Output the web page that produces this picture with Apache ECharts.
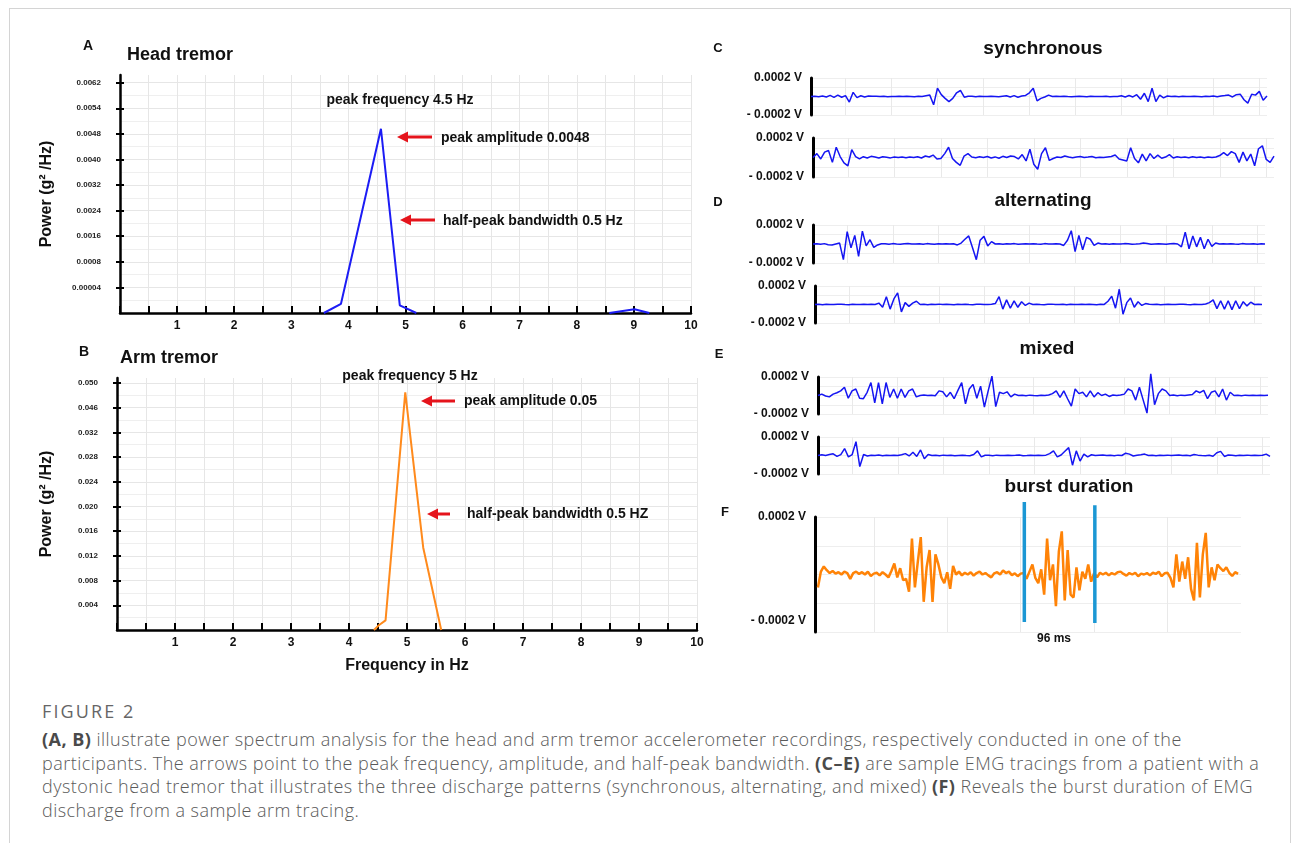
<!DOCTYPE html>
<html>
<head>
<meta charset="utf-8">
<script src="https://cdn.jsdelivr.net/npm/echarts@6/dist/echarts.min.js"></script>
<style>
html, body { margin: 0; padding: 0; background: #fff; }
#frame { position: absolute; left: 9px; top: 8px; width: 1280px; height: 900px; border: 1px solid #d4d4d4; }
#main { position: absolute; left: 0; top: 0; width: 1296px; height: 690px; }
#caption { position: absolute; left: 42px; top: 698px; font-family: "Open Sans", sans-serif; color: #5a5a5a; white-space: nowrap; }
#caption .fig { font-size: 18px; line-height: 26px; letter-spacing: 2.1px; color: #666; }
#caption .txt { font-size: 18px; line-height: 23.7px; margin-top: 4px; letter-spacing: 0.47px; font-weight: 300; }
#caption b { font-weight: 700; color: #4a4a4a; }
</style>
</head>
<body>
<div id="frame"></div>
<div id="main"></div>
<div id="caption">
  <div class="fig">FIGURE 2</div>
  <div class="txt"><b>(A, B)</b> illustrate power spectrum analysis for the head and arm tremor accelerometer recordings, respectively conducted in one of the<br>participants. The arrows point to the peak frequency, amplitude, and half-peak bandwidth. <b>(C–E)</b> are sample EMG tracings from a patient with a<br>dystonic head tremor that illustrates the three discharge patterns (synchronous, alternating, and mixed) <b>(F)</b> Reveals the burst duration of EMG<br>discharge from a sample arm tracing.</div>
</div>
<script>
var chart = echarts.init(document.getElementById('main'));

var FONT = '"Liberation Sans", Arial, Helvetica, sans-serif';
var INK = '#111';

// power spectra: [frequency Hz, power in tick steps of the printed axis]
// (the printed y labels are irregular, so the axis counts ticks and labels them)
var headPower = [[3.57, 0], [3.87, 0.36], [4.57, 7.2], [4.9, 0.3], [5.19, 0], [7, '-'],
                 [8.57, 0], [9.01, 0.15], [9.27, 0]];
var armPower = [[4.43, 0], [4.52, 0.2], [4.63, 0.39], [4.97, 9.62], [5.28, 3.33], [5.59, 0]];
var headTicks = ['0.00004', '0.0008', '0.0016', '0.0024', '0.0032', '0.0040', '0.0048', '0.0054', '0.0062'];
var armTicks = ['0.004', '0.008', '0.012', '0.016', '0.020', '0.024', '0.028', '0.032', '0.046', '0.050'];
var freqLabels = [1, 2, 3, 4, 5, 6, 7, 8, 9, 10];

// EMG traces, microvolts, 120 evenly spaced samples each
var syncTop = [0,2,-3,5,-5,12,-10,14,-8,10,-60,45,-12,8,-5,6,2,4,
  0,2,-2,1,0,3,-1,2,0,-3,2,1,
  8,15,-90,90,20,-20,-55,-20,40,65,-8,3,
  2,-2,3,0,-1,2,1,-2,3,
  8,-6,10,-8,6,12,40,90,-47,-20,-5,15,0,
  2,-1,3,0,-2,1,2,0,-2,3,1,-1,0,2,-3,1,0,
  8,-5,10,-5,20,-30,35,-55,90,-55,15,-15,5,
  0,2,-2,3,0,-1,2,1,-2,3,0,
  5,-3,6,10,15,-5,20,25,-35,-72,25,15,55,-40,5];
var syncBottom = [0,40,-15,55,72,-50,105,10,-55,-85,
  80,10,-15,8,-5,12,5,-5,8,2,
  -4,6,0,5,-3,4,0,8,-5,15,
  5,25,-15,-10,40,105,-10,-50,-80,15,
  40,5,-3,8,0,10,-5,6,-8,12,
  0,15,10,-15,30,-35,85,-70,-120,40,
  100,-30,-10,5,0,15,5,-3,6,10,
  0,4,10,-2,3,0,5,10,25,-15,
  -25,-35,100,-10,-55,35,-35,40,-10,25,
  -8,5,30,-5,8,0,5,-3,8,0,
  4,-2,6,0,5,20,50,20,60,40,
  -50,55,-35,35,-85,90,120,-20,-50,15];
var altTop = [0,3,-2,4,-8,-10,0,10,-165,130,-40,90,-130,135,-20,45,-35,-10,2,
  3,-2,4,0,-3,2,5,-1,0,3,-2,4,1,-3,2,0,3,-1,2,
  -10,10,50,85,-40,-165,40,80,-20,25,0,
  3,-2,2,0,4,-3,1,2,-1,3,0,-2,4,1,-1,2,0,
  -15,40,140,-80,90,-60,70,50,-15,10,0,
  2,-3,3,0,-1,4,2,-2,0,3,10,5,-2,1,3,0,-3,2,4,0,
  -30,125,-50,85,-30,70,-50,50,-25,10,0,
  2,-1,3,0,-2,4,1,0,3,-2,2,0];
var altBottom = [0,2,-2,3,0,-1,2,4,0,-2,3,1,0,2,-1,3,0,
  15,-30,85,-50,60,125,-80,20,-20,15,35,0,
  2,-2,3,0,4,-1,2,0,-3,2,1,3,0,-2,2,4,0,-1,2,
  10,85,-50,50,-40,40,-30,30,-10,15,0,
  3,0,-2,2,4,-1,0,3,-2,2,1,0,3,-1,2,0,-2,3,1,
  35,90,-40,165,-105,20,70,-30,30,-10,10,
  2,0,3,-2,1,4,0,-1,2,3,0,-2,2,0,1,
  5,20,50,-45,40,-50,40,-55,40,-45,30,-15,25,0,3,0];
var mixTop = [0,15,-5,-15,15,30,50,90,-30,50,
  70,-30,-35,35,140,-80,140,-90,140,-20,
  70,-30,70,-20,50,70,-15,0,5,0,
  3,-3,50,40,-15,35,-35,55,140,-90,
  70,120,-30,100,-125,50,210,-120,35,20,
  40,-15,15,0,3,-2,4,0,-3,2,
  0,5,20,50,-20,50,-35,-115,70,20,
  35,-15,50,-15,30,0,15,-10,5,0,
  5,15,70,50,-50,90,-50,-190,235,-100,
  20,70,50,0,5,-3,4,0,5,10,
  50,30,55,-35,35,50,-15,70,-50,35,
  0,3,-2,4,0,2,-1,3,0,2];
var mixBottom = [0,8,0,10,18,-10,10,75,-15,10,150,-120,10,-5,3,0,5,-3,2,0,4,0,8,20,-5,35,-10,60,-35,10,0,
  3,-2,4,0,2,-3,1,4,0,-2,
  10,50,-15,3,
  2,-2,4,0,-1,3,0,2,5,-2,0,3,-1,2,0,4,
  20,50,-15,5,45,85,-105,50,-60,15,-15,8,0,3,5,0,3,-2,4,0,25,15,-5,3,8,15,0,
  3,-2,2,0,4,-1,2,5,0,3,-2,10,4,0,-3,2,
  -8,30,45,-10,5,
  2,-2,3,0,4,-1,2,0,3,15,-10];

// arm tracing for burst duration, microvolts, one sample every 4 ms from 24 ms
var burstStartMs = 24, burstStepMs = 4;
var burstTrace = [-45,10,28,15,5,12,3,8,0,10,
  5,-15,5,10,2,8,0,10,-5,3,
  6,-3,8,0,-10,12,38,-10,22,-20,
  -15,-60,125,-45,45,130,-95,25,85,-95,
  70,35,-10,-30,8,-50,30,0,10,-3,
  6,0,8,-4,5,10,0,5,-3,-10,
  4,8,0,14,5,10,-2,4,-6,3,
  5,-15,10,35,-12,-30,18,-70,125,-20,
  35,-110,80,150,-90,85,-70,-80,25,-55,
  10,-15,35,-25,5,-10,6,0,6,-3,
  5,0,8,10,2,-4,5,0,6,-6,
  3,0,5,-3,6,2,10,-6,4,6,
  -12,-45,70,-25,45,-15,60,-50,-90,110,
  -80,70,145,-45,25,-20,35,22,12,25,
  6,-5,8,2];
var burstEdgesMs = [305, 401];
var burstEdgeTop = [252, 241];
var burstEdgeBottom = [-165, -169];

var scaleBar = ['- 0.0002 V', '0.0002 V'];
var traceGridTicks = [9, 21, 33, 45, 57, 69, 81, 93, 105, 117];
var burstGridTicks = [100, 200, 300, 400, 500];
var voltGrid = [-200, -100, 0, 100, 200];

function seq(n, a) { var r = []; for (var i = 0; i < n; i++) r.push(a + i); return r; }
function asPoints(vals) { return vals.map(function (v, i) { return [i, v]; }); }

var grids = [
  { left: 120, top: 75, width: 571, height: 238 },   // A
  { left: 117, top: 378, width: 580, height: 252 },  // B
  { left: 811, top: 78, width: 456, height: 37 },    // C top
  { left: 813, top: 138, width: 461, height: 39 },   // C bottom
  { left: 813, top: 225, width: 452, height: 38 },   // D top
  { left: 815, top: 286, width: 447, height: 37 },   // D bottom
  { left: 818, top: 377, width: 450, height: 37 },   // E top
  { left: 818, top: 437, width: 452, height: 37 },   // E bottom
  { left: 815, top: 517, width: 426, height: 115 }   // F
].map(function (g) { g.outerBoundsMode = 'none'; g.containLabel = false; return g; });

var axisBlack = { color: '#000', width: 2.5 };
var gridGray = { color: '#e6e6e6', width: 1 };

function freqAxis(gi, extra) {
  var ax = {
    gridIndex: gi, type: 'value', min: 0, max: 10, interval: 0.5,
    axisLine: { show: true, lineStyle: axisBlack },
    axisTick: { show: true, inside: true, length: 7, lineStyle: { color: '#000', width: 2 } },
    axisLabel: { customValues: freqLabels, margin: 7, fontSize: 12, fontWeight: 'bold', color: INK, fontFamily: FONT },
    splitLine: { show: true, lineStyle: gridGray }
  };
  return Object.assign(ax, extra || {});
}
function powerAxes(gi, max, labels, gap) {
  var ticks = seq(labels.length, 1);
  var main = {
    gridIndex: gi, type: 'value', position: 'left', min: 0, max: max, interval: 1,
    name: 'Power (g² /Hz)', nameLocation: 'middle', nameGap: gap,
    nameTextStyle: { fontSize: 16, fontWeight: 'bold', color: INK, fontFamily: FONT },
    axisLine: { show: true, onZero: false, lineStyle: axisBlack },
    axisTick: { show: true, length: 4, customValues: ticks, lineStyle: { color: '#000', width: 2 } },
    axisLabel: { customValues: ticks, margin: 19, fontSize: 8, fontWeight: 'bold', color: '#222', fontFamily: FONT,
      formatter: function (v) { return labels[Math.round(v) - 1] || ''; } },
    splitLine: { show: true, lineStyle: gridGray },
    minorTick: { show: false, splitNumber: 2 },
    minorSplitLine: { show: true, lineStyle: { color: '#efefef', width: 1 } }
  };
  var inner = {
    gridIndex: gi, type: 'value', position: 'left', min: 0, max: max, interval: 1,
    axisLine: { show: false }, axisLabel: { show: false }, splitLine: { show: false },
    axisTick: { show: true, inside: true, length: 4, customValues: ticks, lineStyle: { color: '#000', width: 2 } }
  };
  return [main, inner];
}
function traceX(gi, min, max, ticks) {
  return {
    gridIndex: gi, type: 'value', min: min, max: max,
    axisLine: { show: false }, axisLabel: { show: false },
    axisTick: { show: false, customValues: ticks },
    splitLine: { show: true, lineStyle: { color: '#e9e9e9', width: 1 } }
  };
}
function traceY(gi, lift) {
  return {
    gridIndex: gi, type: 'value', min: -200, max: 200,
    axisLine: { show: true, onZero: false, lineStyle: { color: '#000', width: 3 } },
    axisTick: { show: false, customValues: voltGrid },
    axisLabel: {
      customValues: [-200, 200], margin: 9, fontSize: 12, fontWeight: 'bold', color: INK, fontFamily: FONT,
      formatter: function (v) { return v > 0 ? scaleBar[1] : (lift ? '{lo|' + scaleBar[0] + '}' : scaleBar[0]); },
      rich: { lo: { padding: [0, 0, 22, 0], fontSize: 12, fontWeight: 'bold', color: INK, fontFamily: FONT } }
    },
    splitLine: { show: true, lineStyle: { color: '#eeeeee', width: 1 } }
  };
}

var xAxes = [
  freqAxis(0),
  freqAxis(1, { name: 'Frequency in Hz', nameLocation: 'middle', nameGap: 28,
    nameTextStyle: { fontSize: 16, fontWeight: 'bold', color: INK, fontFamily: FONT } })
];
for (var g = 2; g <= 7; g++) xAxes.push(traceX(g, 0, 119, traceGridTicks));
xAxes.push(traceX(8, 20, 600, burstGridTicks));

var yAxes = powerAxes(0, 9.3, headTicks, 65).concat(powerAxes(1, 10.2, armTicks, 62));
for (var h = 2; h <= 7; h++) yAxes.push(traceY(h, false));
yAxes.push(traceY(8, true));

function emg(idx, vals) {
  return {
    type: 'line', xAxisIndex: idx, yAxisIndex: idx + 2, data: asPoints(vals),
    showSymbol: false, symbol: 'none', clip: false, silent: true,
    lineStyle: { color: '#1515f2', width: 1.5 }
  };
}

var series = [
  { type: 'line', xAxisIndex: 0, yAxisIndex: 0, data: headPower, showSymbol: false, symbol: 'none',
    connectNulls: false, lineStyle: { color: '#1c1cf5', width: 2 } },
  { type: 'line', xAxisIndex: 1, yAxisIndex: 2, data: armPower, showSymbol: false, symbol: 'none',
    lineStyle: { color: '#ff8a1c', width: 2 } },
  emg(2, syncTop), emg(3, syncBottom), emg(4, altTop), emg(5, altBottom), emg(6, mixTop), emg(7, mixBottom),
  { type: 'line', xAxisIndex: 8, yAxisIndex: 10, showSymbol: false, symbol: 'none', clip: false,
    data: burstTrace.map(function (v, i) { return [burstStartMs + i * burstStepMs, v]; }),
    lineStyle: { color: '#ff8307', width: 2.5 } }
];
burstEdgesMs.forEach(function (t, k) {
  series.push({ type: 'line', xAxisIndex: 8, yAxisIndex: 10, showSymbol: false, symbol: 'none', clip: false, z: 4,
    data: [[t, burstEdgeTop[k]], [t, burstEdgeBottom[k]]], lineStyle: { color: '#1b97d4', width: 3.5 } });
});

function txt(s, x, y, size, align) {
  return { type: 'text', x: x, y: y, z: 50, silent: true,
    style: { text: s, fill: INK, font: 'bold ' + size + 'px ' + FONT,
      align: align || 'left', verticalAlign: 'middle', textAlign: align || 'left', textVerticalAlign: 'middle' } };
}
function arrow(tip, tail, y) {
  return { type: 'group', z: 50, silent: true, children: [
    { type: 'line', z: 50, shape: { x1: tip + 8, y1: y, x2: tail, y2: y }, style: { stroke: '#e5141c', lineWidth: 3 } },
    { type: 'polygon', z: 50, shape: { points: [[tip, y], [tip + 11, y - 5.5], [tip + 11, y + 5.5]] }, style: { fill: '#e5141c' } }
  ] };
}

var graphics = [
  txt('A', 88, 46, 14, 'center'), txt('Head tremor', 127, 55, 18),
  txt('peak frequency 4.5 Hz', 400, 100, 14, 'center'),
  arrow(397, 432, 137), txt('peak amplitude 0.0048', 441, 138, 14),
  arrow(400, 435, 220), txt('half-peak bandwidth 0.5 Hz', 443, 221, 14),
  txt('B', 84, 352, 14, 'center'), txt('Arm tremor', 120, 358, 18),
  txt('peak frequency 5 Hz', 410, 376, 14, 'center'),
  arrow(421, 455, 401), txt('peak amplitude 0.05', 464, 401, 14),
  arrow(427, 450, 514), txt('half-peak bandwidth 0.5 HZ', 467, 514, 14),
  txt('C', 718, 48, 13, 'center'), txt('synchronous', 1043, 49, 19, 'center'),
  txt('D', 718, 202, 13, 'center'), txt('alternating', 1043, 201, 19, 'center'),
  txt('E', 719, 354, 13, 'center'), txt('mixed', 1047, 349, 19, 'center'),
  txt('F', 725, 512, 13, 'center'), txt('burst duration', 1069, 487, 19, 'center'),
  txt('96 ms', 1054, 639, 12, 'center')
];

chart.setOption({
  animation: false,
  textStyle: { fontFamily: FONT },
  grid: grids,
  xAxis: xAxes,
  yAxis: yAxes,
  series: series,
  graphic: graphics
});
</script>
</body>
</html>
